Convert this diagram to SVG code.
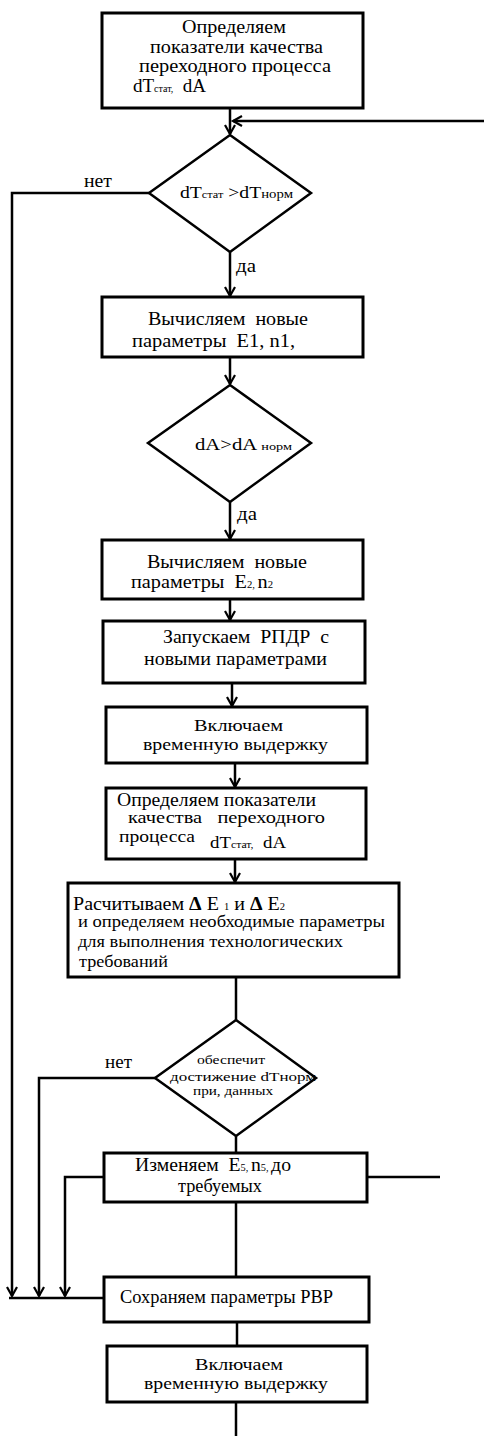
<svg xmlns="http://www.w3.org/2000/svg" width="484" height="1436" viewBox="0 0 484 1436">
<style>
.box{fill:#fff;stroke:#000;stroke-width:3}
.dia{fill:#fff;stroke:#000;stroke-width:2.5}
.ln{fill:none;stroke:#000;stroke-width:2.5}
text{font-family:"Liberation Serif","Times New Roman",serif;fill:#000}
.t19{font-size:19px}
.t18{font-size:18px}
.t17{font-size:17px}
.t16{font-size:16px}
.t13{font-size:13px}
.s{font-size:10px}
</style>
<defs>
<marker id="ar" markerUnits="userSpaceOnUse" markerWidth="14" markerHeight="14" viewBox="-10 -7 12 14" refX="0" refY="0" orient="auto">
<path d="M-9,-5 L0,0 L-9,5" fill="none" stroke="#000" stroke-width="2.2"/>
</marker>
</defs>
<rect width="484" height="1436" fill="#fff"/>
<g id="connectors">
<path class="ln" d="M230,108 V134" marker-end="url(#ar)"/>
<path class="ln" d="M484,121 H233" marker-end="url(#ar)"/>
<path class="ln" d="M149,193 H12 V1296" marker-end="url(#ar)"/>
<path class="ln" d="M230,252 V296" marker-end="url(#ar)"/>
<path class="ln" d="M230,357 V384" marker-end="url(#ar)"/>
<path class="ln" d="M230,502 V539" marker-end="url(#ar)"/>
<path class="ln" d="M230,599 V620" marker-end="url(#ar)"/>
<path class="ln" d="M232,683 V706" marker-end="url(#ar)"/>
<path class="ln" d="M235,763 V787" marker-end="url(#ar)"/>
<path class="ln" d="M235,859 V882" marker-end="url(#ar)"/>
<path class="ln" d="M236,977 V1020"/>
<path class="ln" d="M155,1078 H39 V1296" marker-end="url(#ar)"/>
<path class="ln" d="M236,1136 V1153"/>
<path class="ln" d="M104,1177 H65 V1296" marker-end="url(#ar)"/>
<path class="ln" d="M367,1177 H440"/>
<path class="ln" d="M236,1202 V1277"/>
<path class="ln" d="M9,1298 H104"/>
<path class="ln" d="M237,1322 V1346"/>
<path class="ln" d="M236,1402 V1436"/>
<text class="t18" x="84" y="187" textLength="28" lengthAdjust="spacingAndGlyphs">нет</text>
<text class="t18" x="105" y="1068" textLength="27" lengthAdjust="spacingAndGlyphs">нет</text>
<text class="t18" x="236" y="272" textLength="20" lengthAdjust="spacingAndGlyphs">да</text>
<text class="t18" x="237" y="520" textLength="20" lengthAdjust="spacingAndGlyphs">да</text>
</g>
<g id="n1">
<rect class="box" x="102" y="13" width="261" height="95"/>
<text class="t19" x="182" y="33" textLength="104" lengthAdjust="spacingAndGlyphs">Определяем</text>
<text class="t19" x="150" y="53" textLength="173" lengthAdjust="spacingAndGlyphs">показатели качества</text>
<text class="t19" x="139" y="72" textLength="192" lengthAdjust="spacingAndGlyphs">переходного процесса</text>
<text class="t19" x="133" y="92" xml:space="preserve">dT<tspan class="s">стат,</tspan>  dA</text>
</g>
<g id="d1">
<polygon class="dia" points="230,135 311,193 230,252 149,193"/>
<text class="t16" x="180" y="198" textLength="113" lengthAdjust="spacingAndGlyphs">dT<tspan style="font-size:10px">стат</tspan> &gt;dT<tspan style="font-size:12px">норм</tspan></text>
</g>
<g id="n2">
<rect class="box" x="102" y="297" width="261" height="60"/>
<text class="t19" x="148" y="325" textLength="160" lengthAdjust="spacingAndGlyphs" xml:space="preserve">Вычисляем  новые</text>
<text class="t19" x="132" y="347" textLength="163" lengthAdjust="spacingAndGlyphs" xml:space="preserve">параметры  E1, n1,</text>
</g>
<g id="d2">
<polygon class="dia" points="230,385 311,443 230,502 148,443"/>
<text class="t16" x="195" y="450" textLength="97" lengthAdjust="spacingAndGlyphs">dA&gt;dA <tspan style="font-size:11px">норм</tspan></text>
</g>
<g id="n3">
<rect class="box" x="102" y="540" width="261" height="59"/>
<text class="t19" x="147" y="568" textLength="160" lengthAdjust="spacingAndGlyphs" xml:space="preserve">Вычисляем  новые</text>
<text class="t19" x="131" y="588" textLength="142" lengthAdjust="spacingAndGlyphs" xml:space="preserve">параметры  E<tspan class="s">2, </tspan>n<tspan class="s">2</tspan></text>
</g>
<g id="n4">
<rect class="box" x="103" y="621" width="262" height="62"/>
<text class="t19" x="163" y="643" textLength="166" lengthAdjust="spacingAndGlyphs" xml:space="preserve">Запускаем  РПДР  с</text>
<text class="t19" x="144" y="665" textLength="183" lengthAdjust="spacingAndGlyphs">новыми параметрами</text>
</g>
<g id="n5">
<rect class="box" x="106" y="707" width="261" height="56"/>
<text class="t17" x="194" y="731" textLength="89" lengthAdjust="spacingAndGlyphs">Включаем</text>
<text class="t17" x="143" y="750" textLength="185" lengthAdjust="spacingAndGlyphs">временную выдержку</text>
</g>
<g id="n6">
<rect class="box" x="106" y="788" width="260" height="71"/>
<text class="t19" x="117" y="806" textLength="199" lengthAdjust="spacingAndGlyphs">Определяем показатели</text>
<text class="t17" x="128" y="823" textLength="197" lengthAdjust="spacingAndGlyphs" xml:space="preserve">качества   переходного</text>
<text class="t17" x="119" y="842" textLength="76" lengthAdjust="spacingAndGlyphs">процесса</text>
<text class="t16" x="210" y="848" textLength="76" lengthAdjust="spacingAndGlyphs" xml:space="preserve">dT<tspan class="s">стат,</tspan>  dA</text>
</g>
<g id="n7">
<rect class="box" x="68" y="883" width="331" height="94"/>
<text class="t19" x="73" y="910" textLength="212" lengthAdjust="spacingAndGlyphs">Расчитываем <tspan font-weight="bold">Δ</tspan> E <tspan class="s">1</tspan> и <tspan font-weight="bold">Δ</tspan> E<tspan class="s">2</tspan></text>
<text class="t17" x="78" y="927" textLength="307" lengthAdjust="spacingAndGlyphs">и определяем необходимые параметры</text>
<text class="t17" x="78" y="947" textLength="265" lengthAdjust="spacingAndGlyphs">для выполнения технологических</text>
<text class="t17" x="79" y="967" textLength="89" lengthAdjust="spacingAndGlyphs">требований</text>
</g>
<g id="d3">
<polygon class="dia" points="236,1020 316,1078 236,1136 155,1078"/>
<text class="t13" x="197" y="1064" textLength="68" lengthAdjust="spacingAndGlyphs">обеспечит</text>
<text class="t13" x="170" y="1081" textLength="146" lengthAdjust="spacingAndGlyphs">достижение dTнорм</text>
<text class="t13" x="193" y="1095" textLength="80" lengthAdjust="spacingAndGlyphs">при, данных</text>
</g>
<g id="n8">
<rect class="box" x="104" y="1153" width="263" height="49"/>
<text class="t19" x="135" y="1171" textLength="156" lengthAdjust="spacingAndGlyphs" xml:space="preserve">Изменяем  E<tspan class="s">5, </tspan>n<tspan class="s">5, </tspan>до</text>
<text class="t19" x="178" y="1192" textLength="84" lengthAdjust="spacingAndGlyphs">требуемых</text>
</g>
<g id="n9">
<rect class="box" x="104" y="1277" width="265" height="45"/>
<text class="t18" x="120" y="1303" textLength="213" lengthAdjust="spacingAndGlyphs">Сохраняем параметры РВР</text>
</g>
<g id="n10">
<rect class="box" x="107" y="1346" width="260" height="56"/>
<text class="t17" x="195" y="1370" textLength="88" lengthAdjust="spacingAndGlyphs">Включаем</text>
<text class="t17" x="144" y="1389" textLength="184" lengthAdjust="spacingAndGlyphs">временную выдержку</text>
</g>
</svg>
